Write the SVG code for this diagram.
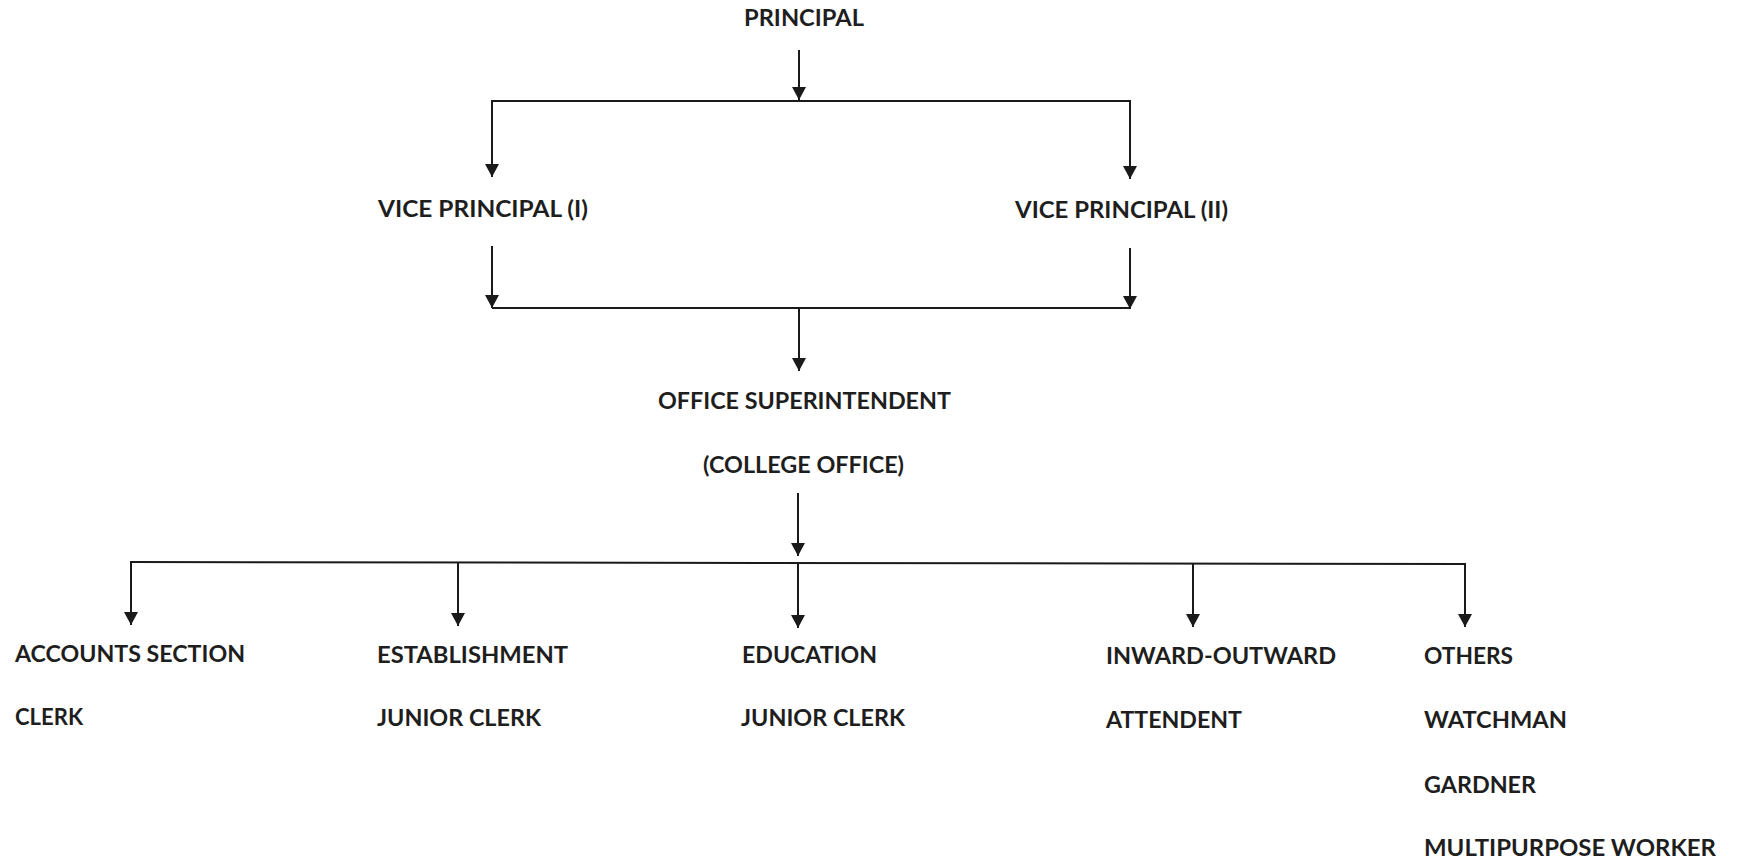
<svg xmlns="http://www.w3.org/2000/svg" width="1739" height="863" viewBox="0 0 1739 863">
<defs>
<marker id="ah" viewBox="0 0 13 14" refX="13" refY="7" markerWidth="13" markerHeight="14" markerUnits="userSpaceOnUse" orient="auto">
<path d="M0,0 L13,7 L0,14 Z" fill="#1a1a1a"/>
</marker>
<style>
text{font-family:Lato,"Liberation Sans",sans-serif;font-weight:bold;font-size:23px;fill:#1e1e1e}
.c line{stroke:#1a1a1a;stroke-width:2;fill:none}
.c line.a{marker-end:url(#ah)}
</style>
</defs>
<rect width="1739" height="863" fill="#ffffff"/>
<g id="connectors" class="c">
<line class="a" x1="799" y1="50" x2="799" y2="100"/>
<line x1="491" y1="101" x2="1131" y2="101"/>
<line class="a" x1="492" y1="101" x2="492" y2="177"/>
<line class="a" x1="1130" y1="101" x2="1130" y2="179"/>
<line class="a" x1="492" y1="246" x2="492" y2="308"/>
<line class="a" x1="1130" y1="248" x2="1130" y2="309"/>
<line x1="492" y1="308" x2="1130" y2="308"/>
<line class="a" x1="799" y1="308" x2="799" y2="371"/>
<line class="a" x1="798" y1="493" x2="798" y2="556"/>
<line x1="130" y1="562" x2="1466" y2="564"/>
<line class="a" x1="131" y1="562" x2="131" y2="625"/>
<line class="a" x1="458" y1="562" x2="458" y2="626"/>
<line class="a" x1="798" y1="563" x2="798" y2="628"/>
<line class="a" x1="1193" y1="563" x2="1193" y2="627"/>
<line class="a" x1="1465" y1="564" x2="1465" y2="627"/>
</g>
<g id="principal"><text x="744" y="26" textLength="120" lengthAdjust="spacingAndGlyphs">PRINCIPAL</text></g>
<g id="vp1"><text x="378" y="217" textLength="210" lengthAdjust="spacingAndGlyphs">VICE PRINCIPAL (I)</text></g>
<g id="vp2"><text x="1015" y="218" textLength="213" lengthAdjust="spacingAndGlyphs">VICE PRINCIPAL (II)</text></g>
<g id="office">
<text x="658" y="409" textLength="293" lengthAdjust="spacingAndGlyphs">OFFICE SUPERINTENDENT</text>
<text x="703" y="473" textLength="201" lengthAdjust="spacingAndGlyphs">(COLLEGE OFFICE)</text>
</g>
<g id="accounts">
<text x="15" y="662" textLength="230" lengthAdjust="spacingAndGlyphs">ACCOUNTS SECTION</text>
<text x="15" y="725" textLength="68" lengthAdjust="spacingAndGlyphs">CLERK</text>
</g>
<g id="establishment">
<text x="377" y="663" textLength="191" lengthAdjust="spacingAndGlyphs">ESTABLISHMENT</text>
<text x="377" y="726" textLength="164" lengthAdjust="spacingAndGlyphs">JUNIOR CLERK</text>
</g>
<g id="education">
<text x="742" y="663" textLength="135" lengthAdjust="spacingAndGlyphs">EDUCATION</text>
<text x="741" y="726" textLength="164" lengthAdjust="spacingAndGlyphs">JUNIOR CLERK</text>
</g>
<g id="inward">
<text x="1106" y="664" textLength="230" lengthAdjust="spacingAndGlyphs">INWARD-OUTWARD</text>
<text x="1106" y="728" textLength="136" lengthAdjust="spacingAndGlyphs">ATTENDENT</text>
</g>
<g id="others">
<text x="1424" y="664" textLength="89" lengthAdjust="spacingAndGlyphs">OTHERS</text>
<text x="1424" y="728" textLength="143" lengthAdjust="spacingAndGlyphs">WATCHMAN</text>
<text x="1424" y="793" textLength="112" lengthAdjust="spacingAndGlyphs">GARDNER</text>
<text x="1424" y="856" textLength="292" lengthAdjust="spacingAndGlyphs">MULTIPURPOSE WORKER</text>
</g>
</svg>
